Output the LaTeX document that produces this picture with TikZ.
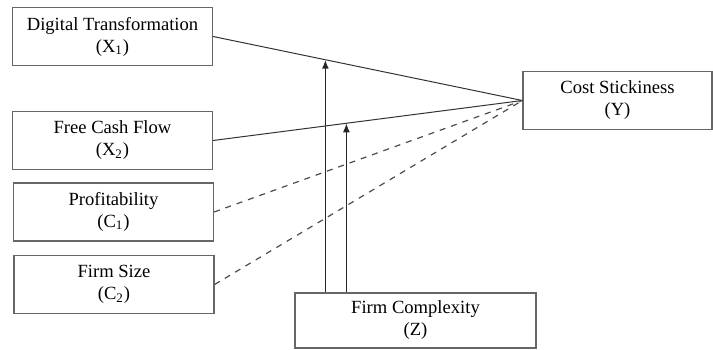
\documentclass[tikz,border=0pt]{standalone}
\usepackage{fontspec}
\setmainfont{Liberation Serif}
\usepackage{tikz}
\usetikzlibrary{arrows,calc}
\tikzstyle{var}=[rectangle,draw=black!60,line width=0.6pt,minimum width=100pt,
minimum height=29pt,align=center,inner sep=0pt,font=\fontsize{9.3}{11}\selectfont]
\tikzstyle{effect}=[draw=black!80,line width=0.5pt]
\tikzstyle{control}=[draw=black!70,line width=0.6pt,dashed]
\tikzstyle{moderate}=[-{Latex[length=4.5pt,width=3.5pt]},draw=black!85,line width=0.8pt]
\usetikzlibrary{arrows.meta}

\begin{document}
\begin{tikzpicture}[>=latex,x=0.5pt,y=-0.5pt]
    \useasboundingbox (0,0) rectangle (713,349);
    % left column: explanatory variables and controls
    \node (x1) [var] at (112.5,36.5)  {Digital Transformation\\(X\textsubscript{1})};
    \node (x2) [var] at (112.5,140.5) {Free Cash Flow\\(X\textsubscript{2})};
    \node (c1) [var] at (113.5,212)   {Profitability\\(C\textsubscript{1})};
    \node (c2) [var] at (114,284.5)   {Firm Size\\(C\textsubscript{2})};
    % right: dependent variable, bottom: moderator
    \node (y)  [var,minimum width=94.5pt] at (617.5,100.5) {Cost Stickiness\\(Y)};
    \node (z)  [var,minimum width=120.5pt,minimum height=27.5pt] at (415.5,320.5)
      {Firm Complexity\\(Z)};
    % the paths are now connected:
    \path[effect]
    (x1.east) edge (y.west)
    (x2.east) edge (y.west);
    \path[control]
    (c1.east) edge (y.west)
    (c2.east) edge (y.west);
    % moderating effects point onto the two paths
    \coordinate (m1) at ($(x1.east)!0.363!(y.west)$);
    \coordinate (m2) at ($(x2.east)!0.431!(y.west)$);
    \draw[moderate] (z.north -| m1) -- (m1);
    \draw[moderate] (z.north -| m2) -- (m2);
  \end{tikzpicture}
\end{document}
